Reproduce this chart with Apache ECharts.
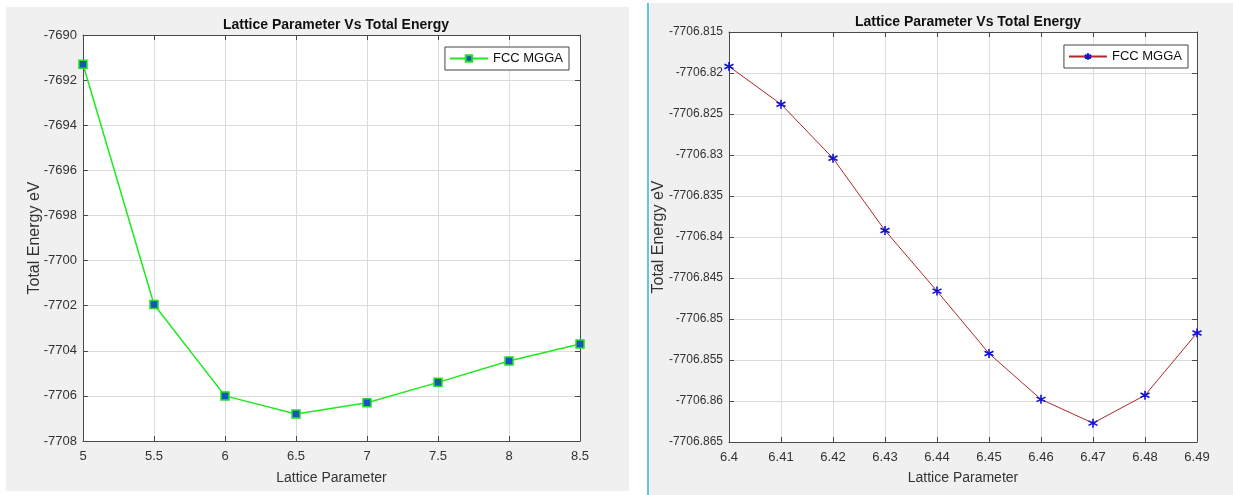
<!DOCTYPE html>
<html>
<head>
<meta charset="utf-8">
<script src="https://cdn.jsdelivr.net/npm/echarts@6/dist/echarts.min.js"></script>
<style>
  html, body { margin: 0; padding: 0; background: #ffffff; width: 1233px; height: 495px; overflow: hidden; }
  #left { position: absolute; left: 6px; top: 7px; width: 623px; height: 484px; background: #f0f0f0; }
  #right { position: absolute; left: 650px; top: 3px; width: 583px; height: 492px; background: #f0f0f0; }
  #divider { position: absolute; left: 647px; top: 3px; width: 2px; height: 492px; background: #5cc6e4; }
</style>
</head>
<body>
<div id="left"></div>
<div id="divider"></div>
<div id="right"></div>
<script>
// ---- Data ----
const chartTitle = 'Lattice Parameter Vs Total Energy';
const seriesName = 'FCC MGGA';
const xAxisName = 'Lattice Parameter';
const yAxisName = 'Total Energy eV';

const leftLattice = [5, 5.5, 6, 6.5, 7, 7.5, 8, 8.5];
const leftEnergy = [-7691.3, -7701.95, -7706.0, -7706.8, -7706.3, -7705.4, -7704.45, -7703.7];

const rightLattice = [6.4, 6.41, 6.42, 6.43, 6.44, 6.45, 6.46, 6.47, 6.48, 6.49];
const rightEnergy = [-7706.8192, -7706.8238, -7706.8304, -7706.8392, -7706.8466, -7706.8542, -7706.8598, -7706.8627, -7706.8593, -7706.8517];

const FONT = "'Liberation Sans Narrow', 'Liberation Sans', Arial, sans-serif";
const AX = '#4a4a4a';
const TXT = '#333333';

function axisPair(min, max, interval, fmt, isX, nameGap, labelSize) {
  const base = {
    type: 'value', min: min, max: max, interval: interval,
    axisLine: { show: true, onZero: false, lineStyle: { color: AX, width: 1 } },
    axisTick: { show: true, inside: true, length: 5, lineStyle: { color: AX } },
    splitLine: { show: false }
  };
  const main = Object.assign({}, base, {
    position: isX ? 'bottom' : 'left',
    name: isX ? xAxisName : yAxisName,
    nameLocation: 'middle',
    nameGap: nameGap,
    nameMoveOverlap: false,
    nameTextStyle: { color: TXT, fontSize: isX ? 14 : 16, fontFamily: FONT },
    axisLabel: { color: TXT, fontSize: labelSize, fontFamily: FONT, margin: isX ? 9 : 6, formatter: fmt },
    splitLine: { show: true, lineStyle: { color: '#dcdcdc', width: 1 } }
  });
  const sec = Object.assign({}, base, {
    position: isX ? 'top' : 'right',
    axisLabel: { show: false }
  });
  return [main, sec];
}

function makeChart(el, cfg) {
  const chart = echarts.init(el, null, { renderer: 'canvas' });
  const xs = axisPair(cfg.xMin, cfg.xMax, cfg.xInt, cfg.xFmt, true, cfg.xNameGap, 13);
  const ys = axisPair(cfg.yMin, cfg.yMax, cfg.yInt, cfg.yFmt, false, cfg.yNameGap, cfg.yLabelSize);
  chart.setOption({
    animation: false,
    backgroundColor: 'transparent',
    textStyle: { fontFamily: FONT },
    title: {
      text: chartTitle,
      left: cfg.titleX, top: cfg.titleTop, textAlign: 'center',
      textStyle: { fontSize: 14, fontWeight: 'bold', color: '#111', fontFamily: FONT }
    },
    grid: { left: cfg.grid.left, top: cfg.grid.top, width: cfg.grid.width, height: cfg.grid.height,
            containLabel: false, outerBoundsMode: 'none',
            show: true, backgroundColor: '#ffffff', borderWidth: 0 },
    legend: {
      data: [seriesName],
      right: cfg.legend.right, top: cfg.legend.top,
      orient: 'vertical',
      backgroundColor: '#ffffff',
      borderColor: '#444', borderWidth: 1, borderRadius: 0,
      padding: [5, 6, 5, 4],
      itemWidth: 38, itemHeight: 8,
      textStyle: { color: '#111', fontSize: 13, fontFamily: FONT },
      selectedMode: false
    },
    xAxis: xs,
    yAxis: ys,
    series: [{
      name: seriesName,
      type: 'line',
      data: cfg.x.map((v, i) => [v, cfg.y[i]]),
      xAxisIndex: 0, yAxisIndex: 0,
      symbol: cfg.symbol,
      symbolSize: cfg.symbolSize,
      showAllSymbol: true,
      lineStyle: { color: cfg.lineColor, width: cfg.lineWidth },
      itemStyle: cfg.itemStyle,
      emphasis: { disabled: true }
    }]
  });
  return chart;
}

makeChart(document.getElementById('left'), {
  x: leftLattice, y: leftEnergy,
  xMin: 5, xMax: 8.5, xInt: 0.5, xFmt: (v) => String(+v.toFixed(2)),
  yMin: -7708, yMax: -7690, yInt: 2, yFmt: (v) => String(+v.toFixed(0)),
  xNameGap: 30, yNameGap: 40, yLabelSize: 13,
  grid: { left: 77, top: 28, width: 497, height: 406 },
  titleX: 325, titleTop: 6,
  legend: { right: 60, top: 40 },
  symbol: 'rect', symbolSize: 8,
  lineColor: '#1eea1e', lineWidth: 1.5,
  itemStyle: { color: '#1457b8', borderColor: '#22e022', borderWidth: 1.5 }
});

makeChart(document.getElementById('right'), {
  x: rightLattice, y: rightEnergy,
  xMin: 6.4, xMax: 6.49, xInt: 0.01, xFmt: (v) => String(+v.toFixed(2)),
  yMin: -7706.865, yMax: -7706.815, yInt: 0.005, yFmt: (v) => String(+v.toFixed(3)),
  xNameGap: 29, yNameGap: 62, yLabelSize: 12,
  grid: { left: 79, top: 29, width: 468, height: 410 },
  titleX: 313, titleTop: 7,
  legend: { right: 45, top: 42 },
  symbol: 'path://M0,-1L0,1M-0.866,-0.5L0.866,0.5M-0.866,0.5L0.866,-0.5',
  symbolSize: 9,
  lineColor: '#a82a2a', lineWidth: 1,
  itemStyle: { color: '#1010d8', borderColor: '#1010d8', borderWidth: 1.6 }
});
</script>
</body>
</html>
